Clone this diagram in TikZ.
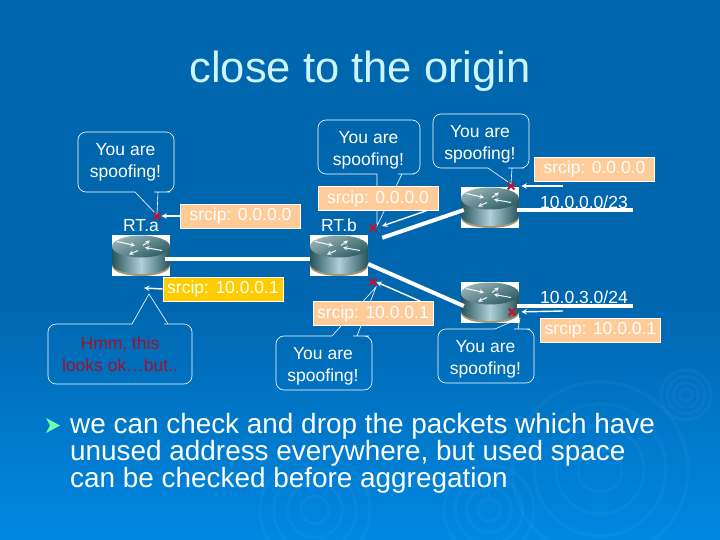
\documentclass[tikz,border=0pt]{standalone}
\usepackage{fontspec}
\usepackage{xcolor}
\setmainfont{Liberation Sans}
\usetikzlibrary{shapes.misc, positioning}

\definecolor{deepblue}{RGB}{0,102,174}
\definecolor{lightblue}{RGB}{0,136,226}
\definecolor{peach}{RGB}{255,204,153}
\definecolor{goldbox}{RGB}{255,204,0}
\definecolor{alarm}{RGB}{190,20,50}
\definecolor{titlecyan}{RGB}{204,245,255}
\definecolor{routerdark}{RGB}{38,84,92}
\definecolor{routermid}{RGB}{176,208,214}
\definecolor{routertopa}{RGB}{150,178,182}
\definecolor{routertopb}{RGB}{44,92,100}
\definecolor{routerbase}{RGB}{168,150,120}

\newcommand{\routerart}[1]{
    \begin{scope}[shift={(#1)}]
        \fill [routerbase] (-29,-8) -- (-29,10) .. controls (-29,17) and (-14,20.5) .. (0,20.5) .. controls (14,20.5) and (29,17) .. (29,10) -- (29,-8) -- cycle;
        \shade [left color=routerdark, right color=routerdark, middle color=routermid] (-29,-9) -- (-29,8) .. controls (-29,15) and (-14,18.5) .. (0,18.5) .. controls (14,18.5) and (29,15) .. (29,8) -- (29,-9) -- cycle;
        \shade [top color=routertopa, bottom color=routertopb, shading angle=25] (0,-9) ellipse [x radius=29, y radius=11];
        \draw [routerarrow] (-24,-14) -- (-6,-10);
        \draw [routerarrow] (2,-10) -- (9,-15);
        \draw [routerarrow] (-3,-5) -- (-12,-1);
        \draw [routerarrow] (21,-5) -- (4,-8);
    \end{scope}
}

\begin{document}
\begin{tikzpicture}[
    x=1pt, y=-1pt,
    router/.style={rectangle, fill=white, minimum width=58pt, minimum height=41pt, inner sep=0pt},
    routerarrow/.style={->, >=stealth, line width=1pt, cyan!5!white},
    link/.style={draw=white, line width=4pt},
    flow/.style={->, >=stealth, draw=white, line width=1.4pt},
    bubble/.style={draw=white, line width=0.6pt, rounded corners=8pt},
    bubbletext/.style={align=center, text=white, font=\fontsize{17.5}{22}\selectfont},
    srcbox/.style={draw=white, line width=0.6pt, fill=peach, text=white, inner sep=0pt, minimum width=120pt, minimum height=24pt, font=\fontsize{17.5}{20}\selectfont},
    plain/.style={text=white, inner sep=0pt, font=\fontsize{17.5}{20}\selectfont},
    spoof/.style={cross out, draw=alarm, line width=1.8pt, minimum size=5pt, inner sep=0pt}
]
    \useasboundingbox (0,0) rectangle (720,540);
    \fill [deepblue] (0,0) rectangle (720,301);
    \shade [top color=deepblue, bottom color=lightblue] (0,300) rectangle (720,540);
    \begin{scope}
        \clip (0,0) rectangle (720,540);
        \foreach \cx/\cy/\rad in {600/470/88, 315/510/55, 489/510/45, 686/395/25} {
            \foreach \f in {0.25,0.5,0.75,1} {
                \draw [white, opacity=0.035, line width=3pt] (\cx,\cy) circle [radius=\f*\rad];
            }
        }
    \end{scope}

    \node (title) [text=titlecyan, font=\fontsize{43.5}{50}\selectfont] at (360,71.5) {close to the origin};

    \node (rta) [router] at (141,255.5) {};
    \node (rtb) [router] at (339,255.5) {};
    \node (rtc) [router] at (490,207.5) {};
    \node (rtd) [router] at (490,302.5) {};
    \foreach \r in {rta,rtb,rtc,rtd} {
        \routerart{\r}
    }

    \draw [link] ([xshift=-5pt,yshift=-3.5pt]rta.east) -- ([yshift=-3.5pt]rtb.west);
    \draw [link] ([xshift=14pt,yshift=-3pt]rtb.north east) -- ([xshift=3pt,yshift=-2.5pt]rtc.west);
    \draw [link] ([yshift=-8.5pt]rtb.east) -- ([xshift=3pt,yshift=-3.5pt]rtd.west);
    \coordinate (edgec) at (633,210);
    \coordinate (edged) at (633,306);
    \draw [link] ([xshift=-2pt,yshift=-2.5pt]rtc.east) -- (edgec);
    \draw [link] ([xshift=-2pt,yshift=-3.5pt]rtd.east) -- (edged);

    \node (namea) [plain, above=2.5pt of rta] {RT.a};
    \node (nameb) [plain, above=2.5pt of rtb] {RT.b};
    \node (netc) [plain] at (584,202) {10.0.0.0/23};
    \node (netd) [plain] at (584,297) {10.0.3.0/24};

    \draw [bubble] (126,132) -- (174,132) -- (174,192) -- (162,192) [sharp corners] -- (158,192) -- (157,215) -- (135,192) -- (131,192) [rounded corners=8pt] -- (78,192) -- (78,132) -- cycle;
    \draw [bubble] (369,120) -- (420,120) -- (420,174) -- (406,174) [sharp corners] -- (402,174) -- (377,226) -- (377,174) -- (373,174) [rounded corners=8pt] -- (318,174) -- (318,120) -- cycle;
    \draw [bubble] (481,114) -- (529,114) -- (529,168) -- (516,168) [sharp corners] -- (512,168) -- (511,184) -- (488,168) -- (484,168) [rounded corners=8pt] -- (433,168) -- (433,114) -- cycle;
    \draw [bubble] (324,390) -- (372,390) -- (372,336) -- (361,336) [sharp corners] -- (357,336) -- (376,287) -- (332,336) -- (328,336) [rounded corners=8pt] -- (276,336) -- (276,390) -- cycle;
    \draw [bubble] (486,383) -- (534,383) -- (534,329) -- (522,329) [sharp corners] -- (518,329) -- (520,318) -- (495,329) -- (491,329) [rounded corners=8pt] -- (438,329) -- (438,383) -- cycle;
    \draw [bubble] (120,384) -- (192,384) -- (192,324) -- (172,324) [sharp corners] -- (168,324) -- (149,294) -- (132,324) -- (128,324) [rounded corners=8pt] -- (48,324) -- (48,384) -- cycle;

    \node (saya) [bubbletext] at (125.5,162.5) {You are\\spoofing!};
    \node (sayb) [bubbletext] at (368.5,150.5) {You are\\spoofing!};
    \node (sayc) [bubbletext] at (480,144.5) {You are\\spoofing!};
    \node (sayd) [bubbletext] at (323,366) {You are\\spoofing!};
    \node (saye) [bubbletext] at (485.5,359) {You are\\spoofing!};
    \node (sayf) [bubbletext, text=alarm!85!black] at (120,354) {Hmm, this\\looks ok…but..};

    \node (srca) [srcbox] at (240.5,216) {srcip: 0.0.0.0};
    \node (srcb) [srcbox] at (378,198.5) {srcip: 0.0.0.0};
    \node (srcc) [srcbox] at (594.5,169) {srcip: 0.0.0.0};
    \node (srcd) [srcbox] at (373,313.5) {srcip: 10.0.0.1};
    \node (srce) [srcbox] at (600.5,330) {srcip: 10.0.0.1};
    \node (srcf) [srcbox, fill=goldbox] at (223,289) {srcip: 10.0.0.1};

    \node (xa) [spoof] at (157,216) {};
    \node (xb) [spoof] at (373,228) {};
    \node (xc) [spoof] at (511,186) {};
    \node (xd) [spoof] at (373,282) {};
    \node (xe) [spoof] at (512,312) {};

    \coordinate (feedc) at (563,186);
    \coordinate (feede) at (563,311);
    \coordinate (feedf) at (144,288);

    \draw [flow, shorten >=1pt] (srca.west) -- (xa.east);
    \draw [flow, shorten >=6pt] ([xshift=-12pt]srcb.south east) -- (xb.east);
    \draw [flow, shorten >=7pt] (feedc) -- (xc.east);
    \draw [flow] ([xshift=-13pt]srcd.north east) -- (xd.east);
    \draw [flow, shorten >=6pt] (feede) -- (xe.east);
    \draw [flow] (srcf.west) -- (feedf);

    \fill [green!60!cyan!55!white] (46,418) -- (60,425.5) -- (46,433) -- (50,425.5) -- cycle;
    \node (point) [anchor=north west, align=left, text=white, inner sep=0pt, font=\fontsize{27.9}{27}\selectfont] at (70,413) {we can check and drop the packets which have\\unused address everywhere, but used space\\can be checked before aggregation};
\end{tikzpicture}
\end{document}
